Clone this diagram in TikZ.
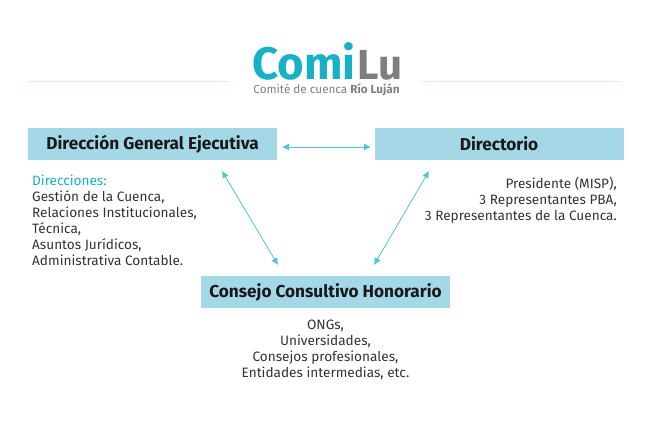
\documentclass[tikz,border=0pt]{standalone}
\usepackage{fontspec}
\setmainfont{Fira Sans}
\usetikzlibrary{calc,positioning,arrows.meta}
\definecolor{boxblue}{HTML}{A5D8E6}
\definecolor{comiteal}{HTML}{16B1C6}
\definecolor{comigray}{HTML}{7F7F7F}
\definecolor{textgray}{HTML}{333333}
\definecolor{rulelight}{HTML}{D5F0F4}
\tikzset{
	titlebox/.style={fill=boxblue, minimum width=249pt, minimum height=32pt, inner sep=0pt, font=\fontsize{17.2}{20}\selectfont\bfseries, text=black!90},
	bodytext/.style={inner sep=0pt, text=textgray, font=\fontsize{13.6}{16}\selectfont},
	link/.style={{Latex[length=7pt,width=7pt]}-{Latex[length=7pt,width=7pt]}, comiteal!75, line width=0.8pt},
	headrule/.style={rulelight, line width=1pt}
}
\begin{document}
\begin{tikzpicture}[x=1pt,y=1pt]
	\useasboundingbox (0,0) rectangle (650,423);

	% logo
	\node[inner sep=0pt, anchor=base east, text depth=0pt, text=comiteal, font=\fontsize{45.5}{46}\selectfont\bfseries] (comi) at (355.5,343) {Comi};
	\node[inner sep=0pt, anchor=base west, text depth=0pt, text=comigray, font=\fontsize{42}{46}\selectfont\bfseries] (lu) at (357.5,343) {Lu};
	\node[inner sep=0pt, anchor=base, text=comigray, font=\fontsize{11.7}{14}\selectfont] (sub) at (326.5,329) {Comité de cuenca \textbf{Río Luján}};

	\coordinate (ruleA) at (28,341);
	\coordinate (ruleB) at (229,341);
	\coordinate (ruleC) at (422,341);
	\coordinate (ruleD) at (622,341);
	\draw[headrule] (ruleA) -- (ruleB);
	\draw[headrule] (ruleC) -- (ruleD);

	% boxes
	\node[titlebox] (dge) at (152.5,279) {Dirección General Ejecutiva};
	\node[titlebox] (dir) at (499,279) {Directorio};
	\node[titlebox] (con) at (325.5,131) {Consejo Consultivo Honorario};

	% texts
	\node[bodytext, anchor=north west, align=left] (dgetext) at (32,248.5) {\textcolor{comiteal}{Direcciones:}\\Gestión de la Cuenca,\\Relaciones Institucionales,\\Técnica,\\Asuntos Jurídicos,\\Administrativa Contable.};
	\node[bodytext, anchor=north east, align=right] (dirtext) at (617,246.5) {Presidente (MISP),\\3 Representantes PBA,\\3 Representantes de la Cuenca.};
	\node[bodytext, anchor=north, align=center] (context) at (325.5,103.5) {ONGs,\\Universidades,\\Consejos profesionales,\\Entidades intermedias, etc.};

	% arrows
	\coordinate (dgeR) at (282,276);
	\coordinate (dirL) at (371,276);
	\coordinate (dgeS) at (222,252);
	\coordinate (conL) at (278,158);
	\coordinate (dirS) at (429,252);
	\coordinate (conR) at (374,158);
	\draw[link] (dgeR) -- (dirL);
	\draw[link] (dgeS) -- (conL);
	\draw[link] (dirS) -- (conR);
\end{tikzpicture}
\end{document}
